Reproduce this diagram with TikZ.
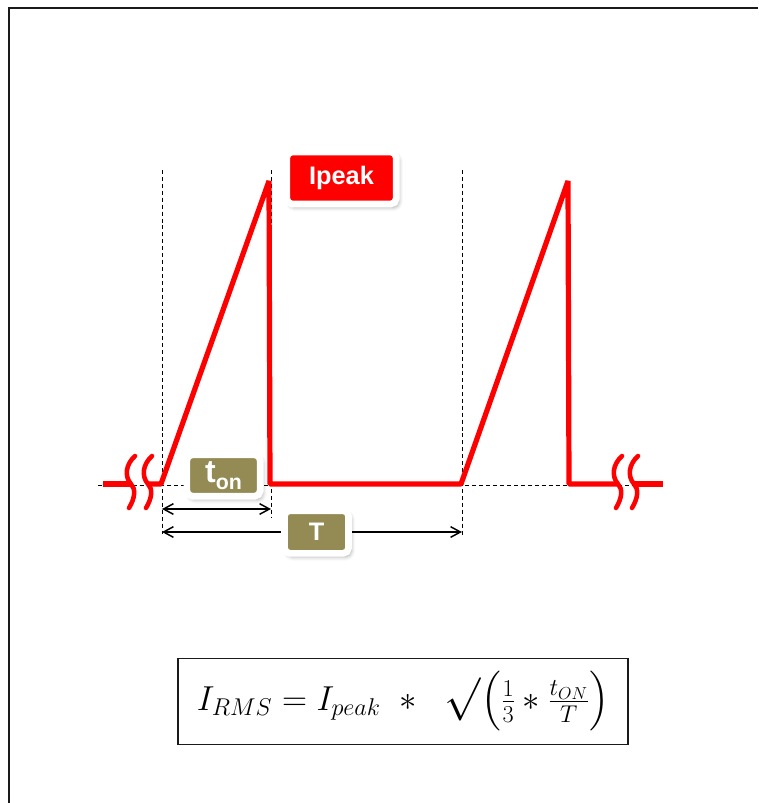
\RequirePackage{fix-cm}
\documentclass[tikz,border=0pt]{standalone}
\usepackage{amsmath}
\usepackage{fontspec}
\newfontfamily\lblfont{Liberation Sans}
\usepackage{xcolor}
\definecolor{sigred}{HTML}{FF0000}
\definecolor{olivebox}{HTML}{948A54}
\definecolor{framegray}{HTML}{1A1A1A}
\usetikzlibrary{arrows.meta, positioning, calc, shadows.blur}
\tikzset{
  sigline/.style={draw=sigred, line width=3.9pt, line join=bevel},
  brkline/.style={draw=sigred, line width=3.4pt, line cap=round},
  guide/.style={draw=black, line width=0.6pt, dash pattern=on 3pt off 2.2pt},
  dimarr/.style={{Straight Barb[length=2.6mm,width=2.8mm]}-{Straight Barb[length=2.6mm,width=2.8mm]}, line width=1.1pt, color=black},
  lblbox/.style={rectangle, rounded corners=4pt, draw=white, line width=5pt, fill=olivebox, text=white, align=center,
                 inner sep=0pt, font=\lblfont\bfseries,
                 blur shadow={shadow xshift=2pt, shadow yshift=-2.5pt, shadow opacity=35, shadow blur radius=3pt}},
  pkbox/.style={lblbox, fill=sigred},
  fbox/.style={rectangle, draw=framegray, line width=0.9pt, inner sep=0pt, minimum width=337.5pt, minimum height=65pt},
  brk/.pic={\draw[brkline] (4,-28) .. controls (-5,-20) and (-7,-8) .. (0,0) .. controls (5,5) and (4,14) .. (-2,24);},
}

\begin{document}
\begin{tikzpicture}[x=0.75pt, y=-0.75pt]
  \useasboundingbox (0,0) rectangle (758,803);
  \draw[framegray, line width=1.8pt] (9,803) |- (758,8);
  % waveform corners
  \coordinate (r0) at (161,484);
  \coordinate (pk0) at (269,181);
  \coordinate (f0) at (270,484);
  \coordinate (r1) at (461,484);
  \coordinate (pk1) at (568,181);
  \coordinate (f1) at (569,484);
  % guides
  \draw[guide] (98,485) -- (640,485);
  \draw[guide] (162,170) -- (162,534);
  \draw[guide] (271,170) -- (271,517);
  \draw[guide] (462,170) -- (462,536);
  % signal
  \draw[sigline] (103,484) -- (131,484);
  \draw[sigline] (148,484) -- (r0) -- (pk0) -- (f0) -- (r1) -- (pk1) -- (f1) -- (618,484);
  \draw[sigline] (634,484) -- (663,484);
  \foreach \bx in {131,148,618,634}
    \pic at (\bx,484) {brk};
  % dimensions
  \coordinate (ton0) at (162,509);
  \coordinate (ton1) at (271,509);
  \coordinate (per0) at (162,532);
  \coordinate (per1) at (462,532);
  \draw[dimarr] (ton0) -- (ton1);
  \draw[dimarr] (per0) -- node[lblbox, pos=0.515, minimum width=48pt, minimum height=32pt,
    font=\lblfont\bfseries\fontsize{19}{20}\selectfont] (tlbl) {T} (per1);
  \node[lblbox, minimum width=55pt, minimum height=31pt, font=\lblfont\bfseries\fontsize{24}{24}\selectfont]
    (tonlbl) at (223.5,475.5) {t\raisebox{-0.4ex}{\fontsize{16}{16}\selectfont on}};
  \node[pkbox, minimum width=82pt, minimum height=39pt, font=\lblfont\bfseries\fontsize{19}{20}\selectfont]
    (ipk) at (341.5,178) {Ipeak};
  % formula
  \node[fbox, font=\fontsize{26}{32}\selectfont] (irms) at (403,701.5)
    {$I_{RMS} = I_{peak}\ \ast\ \ \text{\scalebox{1.25}{$\surd$}}\Bigl(\tfrac{1}{3}\ast\tfrac{t_{ON}}{T}\Bigr)$};
\end{tikzpicture}
\end{document}
